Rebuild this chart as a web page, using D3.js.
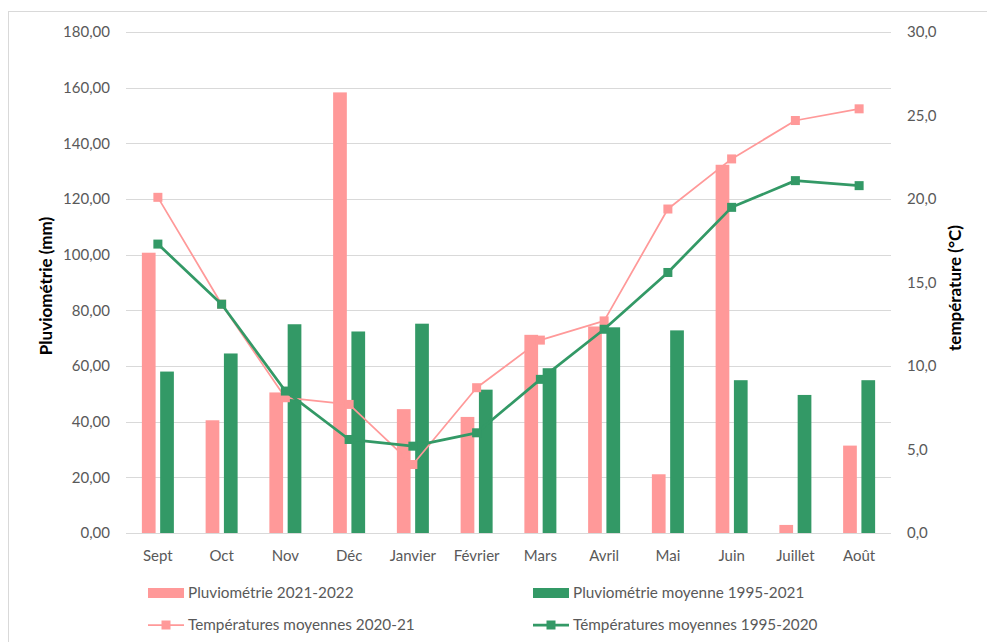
<!DOCTYPE html>
<html>
<head>
<meta charset="utf-8">
<script src="https://cdn.jsdelivr.net/npm/d3@7"></script>
<style>
  html, body { margin: 0; padding: 0; background: #fff; }
  svg { display: block; font-family: "Lato", "Open Sans", sans-serif; }
</style>
</head>
<body>
<svg id="chart" width="987" height="642"></svg>
<script>
// Months of the hydrological year
const months = ["Sept", "Oct", "Nov", "Déc", "Janvier", "Février", "Mars", "Avril", "Mai", "Juin", "Juillet", "Août"];

// Rainfall (mm)
const pluvio2122 = [100.7, 40.5, 50.5, 158.3, 44.5, 41.7, 71.2, 74.2, 21.1, 132.3, 2.9, 31.4];
const pluvioMoy = [58.0, 64.5, 75.0, 72.4, 75.2, 51.5, 59.2, 73.9, 72.8, 54.9, 49.6, 54.9];

// Mean temperatures (°C)
const temp2021 = [20.1, 13.7, 8.1, 7.7, 4.1, 8.7, 11.55, 12.7, 19.4, 22.4, 24.7, 25.4];
const tempMoy = [17.3, 13.7, 8.5, 5.6, 5.2, 6.0, 9.2, 12.2, 15.6, 19.5, 21.1, 20.8];

// Axis ticks
const leftTicks = [0, 20, 40, 60, 80, 100, 120, 140, 160, 180];
const rightTicks = [0, 5, 10, 15, 20, 25, 30];

const seriesNames = {
  p1: "Pluviométrie 2021-2022",
  p2: "Pluviométrie moyenne 1995-2021",
  t1: "Températures moyennes 2020-21",
  t2: "Témpératures moyennes 1995-2020"
};

const PINK = "#ff9999";
const GREEN = "#339966";
const GRID = "#d9d9d9";
const TXT = "#595959";
const FONT = "Lato, 'Open Sans', sans-serif";

const svg = d3.select("#chart");

// Outer frame
svg.append("rect")
  .attr("x", 8.5).attr("y", 11.5)
  .attr("width", 1000).attr("height", 660)
  .attr("fill", "#fff").attr("stroke", GRID).attr("stroke-width", 1);

const plot = { left: 126, right: 891, top: 32, bottom: 533 };

const x = d3.scaleBand().domain(months).range([plot.left, plot.right]).padding(0);
const xSub = d3.scaleBand().domain(["p1", "p2"]).range([-16, 16]).paddingInner(0.25);
const yL = d3.scaleLinear().domain([0, 180]).range([plot.bottom, plot.top]);
const yR = d3.scaleLinear().domain([0, 30]).range([plot.bottom, plot.top]);

// Gridlines
svg.append("g").selectAll("line")
  .data(leftTicks)
  .join("line")
  .attr("x1", plot.left).attr("x2", plot.right)
  .attr("y1", d => Math.round(yL(d)) + 0.5).attr("y2", d => Math.round(yL(d)) + 0.5)
  .attr("stroke", GRID).attr("stroke-width", 1);

// Left axis
const fmtL = d => d3.format(".2f")(d).replace(".", ",");
const axL = svg.append("g")
  .attr("transform", `translate(${plot.left - 16},0)`)
  .call(d3.axisLeft(yL).tickValues(leftTicks).tickFormat(fmtL).tickSize(0).tickPadding(0));
axL.select(".domain").remove();
axL.selectAll("text").attr("fill", TXT).style("font-size", "15px").style("font-family", FONT);

// Right axis
const fmtR = d => d3.format(".1f")(d).replace(".", ",");
const axR = svg.append("g")
  .attr("transform", `translate(${plot.right + 16},0)`)
  .call(d3.axisRight(yR).tickValues(rightTicks).tickFormat(fmtR).tickSize(0).tickPadding(0));
axR.select(".domain").remove();
axR.selectAll("text").attr("fill", TXT).style("font-size", "15px").style("font-family", FONT);

// Category axis
const axX = svg.append("g")
  .attr("transform", `translate(0,${plot.bottom})`)
  .call(d3.axisBottom(x).tickSize(0).tickPadding(17));
axX.select(".domain").remove();
axX.selectAll("text").attr("fill", TXT).style("font-size", "15px").style("font-family", FONT);

// Axis titles
svg.append("text")
  .attr("transform", `translate(52,286) rotate(-90)`)
  .attr("text-anchor", "middle")
  .style("font-size", "17px").style("font-weight", "bold").attr("fill", "#000")
  .text("Pluviométrie (mm)");
svg.append("text")
  .attr("transform", `translate(961,288) rotate(-90)`)
  .attr("text-anchor", "middle")
  .style("font-size", "17px").style("font-weight", "bold").attr("fill", "#000")
  .text("température (°C)");

// Bars
const barData = months.map((m, i) => ({ m, p1: pluvio2122[i], p2: pluvioMoy[i] }));
const barColors = { p1: PINK, p2: GREEN };
const groups = svg.append("g").selectAll("g")
  .data(barData)
  .join("g")
  .attr("transform", d => `translate(${x(d.m) + x.bandwidth() / 2},0)`);
groups.selectAll("rect")
  .data(d => ["p1", "p2"].map(k => ({ k, v: d[k] })))
  .join("rect")
  .attr("x", d => xSub(d.k))
  .attr("width", xSub.bandwidth())
  .attr("y", d => yL(d.v))
  .attr("height", d => yL(0) - yL(d.v))
  .attr("fill", d => barColors[d.k]);

// Temperature lines
const cx = m => x(m) + x.bandwidth() / 2;
function drawLine(values, color, width, marker) {
  const pts = months.map((m, i) => [cx(m), yR(values[i])]);
  svg.append("path")
    .datum(pts)
    .attr("d", d3.line())
    .attr("fill", "none")
    .attr("stroke", color)
    .attr("stroke-width", width)
    .attr("stroke-linejoin", "round");
  svg.append("g").selectAll("rect")
    .data(pts)
    .join("rect")
    .attr("x", d => d[0] - marker / 2)
    .attr("y", d => d[1] - marker / 2)
    .attr("width", marker).attr("height", marker)
    .attr("fill", color);
}
drawLine(temp2021, PINK, 1.75, 9);
drawLine(tempMoy, GREEN, 2.75, 9);

// Legend
const legend = svg.append("g").style("font-size", "15.3px").style("font-family", FONT);
const legItems = [
  { k: "p1", type: "bar", color: PINK, x: 148, y: 593 },
  { k: "p2", type: "bar", color: GREEN, x: 533, y: 593 },
  { k: "t1", type: "line", color: PINK, w: 1.75, x: 148, y: 625 },
  { k: "t2", type: "line", color: GREEN, w: 2.75, x: 533, y: 625 }
];
legItems.forEach(it => {
  const g = legend.append("g").attr("transform", `translate(${it.x},${it.y})`);
  if (it.type === "bar") {
    g.append("rect").attr("x", 0).attr("y", -5).attr("width", 36).attr("height", 10).attr("fill", it.color);
  } else {
    g.append("line").attr("x1", 0).attr("x2", 36).attr("y1", 0).attr("y2", 0)
      .attr("stroke", it.color).attr("stroke-width", it.w);
    g.append("rect").attr("x", 13.5).attr("y", -4.5).attr("width", 9).attr("height", 9).attr("fill", it.color);
  }
  g.append("text").attr("x", 40).attr("y", 0).attr("dy", "0.35em")
    .attr("fill", TXT).text(seriesNames[it.k]);
});
</script>
</body>
</html>
